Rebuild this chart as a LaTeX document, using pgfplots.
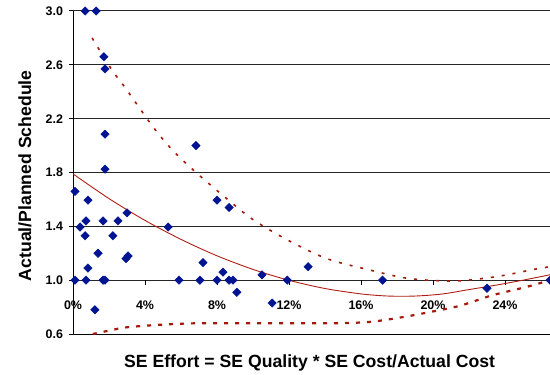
\documentclass[border=0pt]{standalone}
\usepackage{pgfplots}
\pgfplotsset{compat=1.18}
\usepackage{fontspec}
\setmainfont{Liberation Sans}
\definecolor{navy}{RGB}{0,20,145}
\definecolor{fitred}{RGB}{175,30,20}
\definecolor{dotred}{RGB}{165,25,10}
\begin{document}
\begin{tikzpicture}
\begin{axis}[
 scale only axis, width=477bp, height=323bp,
 xmin=0, xmax=26.5, ymin=0.6, ymax=3.0,
 axis lines*=left,
 axis line style={black, line width=1bp},
 xtick={0,4,8,12,16,20,24},
 xticklabels={0\%,4\%,8\%,12\%,16\%,20\%,24\%},
 xtick style={draw=none},
 xticklabel style={anchor=center, yshift=32.5bp, font=\bfseries\fontsize{12.5}{14}\selectfont},
 ytick={0.6,1.0,1.4,1.8,2.2,2.6,3.0},
 ymajorgrids, major grid style={black!85, line width=1bp},
 tick align=outside, major tick length=4bp,
 ytick style={black, line width=1bp},
 yticklabel style={xshift=-2.5bp, font=\bfseries\fontsize{12.5}{14}\selectfont, /pgf/number format/fixed, /pgf/number format/fixed zerofill, /pgf/number format/precision=1},
 /pgf/number format/assume math mode=true,
 xlabel={SE Effort = SE Quality * SE Cost/Actual Cost},
 ylabel={Actual/Planned Schedule},
 every axis x label/.style={at={(axis description cs:0.496,-0.09)}, anchor=center, font=\bfseries\fontsize{17.7}{20}\selectfont},
 every axis y label/.style={at={(axis description cs:-0.1006,0.49)}, rotate=90, anchor=center, font=\bfseries\fontsize{17.7}{20}\selectfont},
]
\coordinate (bl) at (rel axis cs:0,0);
\coordinate (tr) at (rel axis cs:1,1);
% tick marks on the 1.0 line
\draw[black, line width=1bp] (axis cs:0,1) -- ([yshift=-5bp]axis cs:0,1);
\draw[black, line width=1bp] (axis cs:4,1) -- ([yshift=-5bp]axis cs:4,1);
\draw[black, line width=1bp] (axis cs:8,1) -- ([yshift=-5bp]axis cs:8,1);
\draw[black, line width=1bp] (axis cs:12,1) -- ([yshift=-5bp]axis cs:12,1);
\draw[black, line width=1bp] (axis cs:16,1) -- ([yshift=-5bp]axis cs:16,1);
\draw[black, line width=1bp] (axis cs:20,1) -- ([yshift=-5bp]axis cs:20,1);
\draw[black, line width=1bp] (axis cs:24,1) -- ([yshift=-5bp]axis cs:24,1);
% fit
\addplot[fitred, line width=0.9bp, smooth, mark=none] coordinates {
(0,1.79) (2,1.606) (4,1.444) (6,1.303) (8,1.181) (10,1.080) (12,0.999) (14,0.938) (16,0.898) (17.5,0.882) (19,0.882) (20.5,0.897) (22,0.93) (23.5,0.963) (25,1.0) (26.5,1.04)};
% upper band
\addplot[dotred, line width=1.6bp, dash pattern=on 3bp off 8bp, smooth, mark=none] coordinates {
(1.06,2.80) (2.17,2.56) (2.9,2.43) (4.44,2.14) (5.5,1.97) (6.67,1.82) (8.5,1.61) (10,1.45) (11.9,1.30) (14.1,1.16) (16.5,1.075) (18.3,1.02) (19.7,1.0) (21.5,0.995) (23.7,1.03) (25.6,1.08) (26.5,1.10)};
% lower band
\addplot[dotred, line width=2.2bp, dash pattern=on 4bp off 7bp, smooth, mark=none] coordinates {
(1.1,0.60) (2,0.625) (3,0.65) (5,0.67) (7,0.68) (10,0.68) (14.4,0.68) (16.5,0.69) (18.3,0.725) (19.7,0.76) (21.5,0.81) (23.3,0.888) (25.2,0.95) (26.5,1.0)};
% data
\addplot[only marks, mark=square*, mark size=3bp, mark options={rotate=45, fill=navy, draw=navy}] coordinates {
(0.67,3.0) (1.28,3.0) (1.72,2.66) (1.78,2.57) (1.78,2.085) (1.78,1.825)
(0.11,1.66) (0.83,1.595) (0.39,1.395) (0.72,1.44) (0.67,1.33) (1.67,1.44) (2.5,1.44) (2.22,1.33) (3.0,1.50)
(1.39,1.20) (2.94,1.16) (3.06,1.18) (0.83,1.09)
(0.11,1.0) (0.72,1.0) (1.67,1.0) (1.78,1.0) (1.22,0.78)
(5.28,1.395) (5.89,1.0) (6.83,2.0) (7.05,1.0) (7.22,1.13)
(8.0,1.595) (8.67,1.54) (8.0,1.0) (8.33,1.06) (8.67,1.0) (8.89,1.0) (9.1,0.91)
(10.5,1.04) (11.9,1.0) (11.06,0.83) (13.06,1.10) (17.2,1.0) (23.0,0.94) (26.5,1.0)};
\end{axis}
\pgfresetboundingbox
\path ([xshift=-73bp,yshift=-41bp]bl) rectangle ([yshift=11bp]tr);
\end{tikzpicture}
\end{document}
